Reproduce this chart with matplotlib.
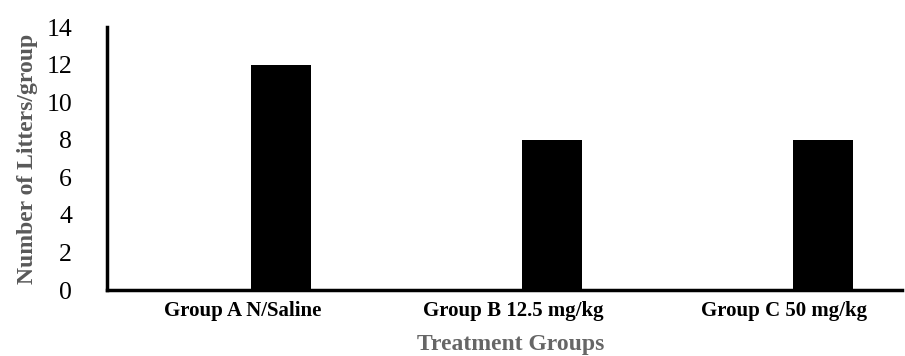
import matplotlib
matplotlib.use("Agg")
import matplotlib.pyplot as plt
import numpy as np

groups = ["Group A N/Saline", "Group B 12.5 mg/kg", "Group C 50 mg/kg"]
litters = [12, 8, 8]
y_ticks = [0, 2, 4, 6, 8, 10, 12, 14]

plt.rcParams['font.family'] = ['Liberation Serif', 'DejaVu Serif']

fig = plt.figure(figsize=(9.05, 3.56), dpi=100)
ax = fig.add_axes([0.118, 0.185, 0.879, 0.739])

x = np.arange(len(groups))
ax.bar(x + 0.144, litters, width=0.221, color='black')

ax.set_xlim(-0.5, 2.435)
ax.set_ylim(0, 14)
ax.set_yticks(y_ticks)
ax.set_yticklabels([str(v) for v in y_ticks], fontsize=18.5)
ax.set_xticks(x)
ax.set_xticklabels(groups, fontsize=15, fontweight='bold')
ax.tick_params(axis='y', length=0, pad=25)
ax.tick_params(axis='x', length=0, pad=8)

for side in ['top', 'right']:
    ax.spines[side].set_visible(False)
for side in ['left', 'bottom']:
    ax.spines[side].set_linewidth(2.5)
    ax.spines[side].set_color('black')

ax.set_ylabel('Number of Litters/group', fontsize=17, fontweight='bold',
              color='#595959', labelpad=6)
ax.set_xlabel('Treatment Groups', fontsize=17, fontweight='bold',
              color='#666666', va='bottom')
ax.xaxis.set_label_coords(0.508, -0.245)

fig.savefig('out.png', dpi=100)
plt.close(fig)
